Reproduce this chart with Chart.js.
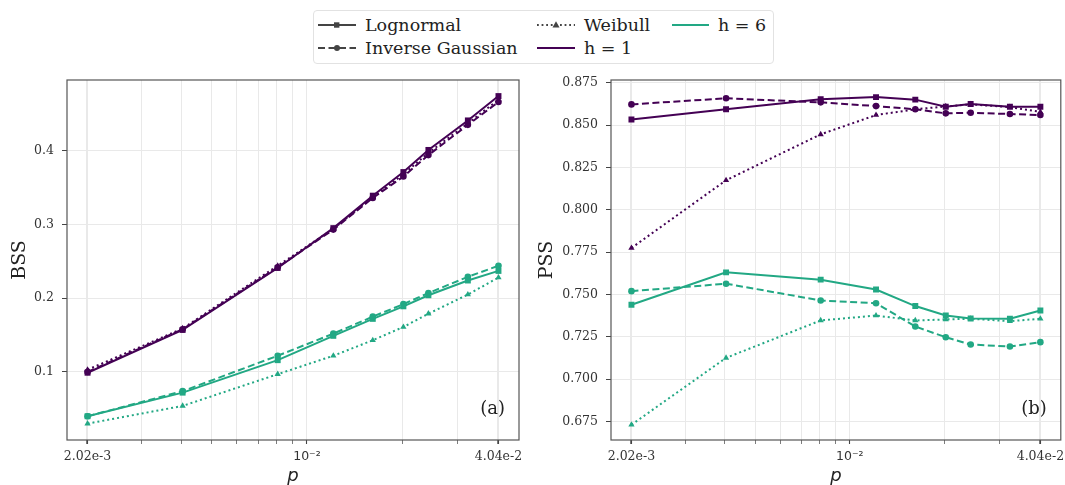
<!DOCTYPE html>
<html>
<head>
<meta charset="utf-8">
<script src="https://cdn.jsdelivr.net/npm/chart.js@4.4.1/dist/chart.umd.min.js"></script>
<style>
  body { margin: 0; background: #fff; }
  #wrap { position: relative; width: 1065px; height: 485px; overflow: hidden; }
  canvas { position: absolute; top: 0; }
  #chart1 { left: 0; }
  #chart2 { left: 530px; }
  #legend {
    position: absolute; left: 313px; top: 10px; width: 459px; height: 52px;
    border: 1px solid #e2e2e2; border-radius: 4px; background: #fff;
    font-family: "DejaVu Serif", serif; font-size: 17.5px; color: #222;
  }
  .item { position: absolute; height: 20px; line-height: 20px; white-space: nowrap; }
  .item svg { position: absolute; left: 0; top: 4px; }
  .item span { position: absolute; top: 0; }
</style>
</head>
<body>
<div id="wrap">
  <canvas id="chart1" width="530" height="485"></canvas>
  <canvas id="chart2" width="535" height="485"></canvas>
  <div id="legend">
    <div class="item" style="left:4px; top:4px;">
      <svg width="40" height="12"><line x1="0" y1="6" x2="38" y2="6" stroke="#444" stroke-width="1.8"/><rect x="16" y="3.3" width="5.4" height="5.4" fill="#444"/></svg>
      <span style="left:47px;">Lognormal</span>
    </div>
    <div class="item" style="left:4px; top:27px;">
      <svg width="40" height="12"><line x1="0" y1="6" x2="38" y2="6" stroke="#444" stroke-width="1.8" stroke-dasharray="7,3.5"/><circle cx="19" cy="6" r="3" fill="#444"/></svg>
      <span style="left:47px;">Inverse Gaussian</span>
    </div>
    <div class="item" style="left:223px; top:4px;">
      <svg width="40" height="12"><line x1="0" y1="6" x2="38" y2="6" stroke="#444" stroke-width="1.8" stroke-dasharray="1.8,2.8"/><polygon points="19,2.3 22.5,8.4 15.5,8.4" fill="#444"/></svg>
      <span style="left:47px;">Weibull</span>
    </div>
    <div class="item" style="left:223px; top:27px;">
      <svg width="40" height="12"><line x1="0" y1="6" x2="38" y2="6" stroke="#440154" stroke-width="2"/></svg>
      <span style="left:47px;">h = 1</span>
    </div>
    <div class="item" style="left:358px; top:4px;">
      <svg width="40" height="12"><line x1="0" y1="6" x2="37" y2="6" stroke="#22a884" stroke-width="2"/></svg>
      <span style="left:46px;">h = 6</span>
    </div>
  </div>
</div>
<script>
// p values (2.02e-3 times 1, 2, 4, 6, 8, 10, 12, 16, 20)
const pValues = [0.00202, 0.00404, 0.00808, 0.01212, 0.01616, 0.0202, 0.02424, 0.03232, 0.0404];

// BSS, panel (a)
const bssLogH1 = [0.099, 0.157, 0.241, 0.295, 0.339, 0.371, 0.401, 0.441, 0.474];
const bssInvH1 = [0.100, 0.158, 0.242, 0.293, 0.336, 0.365, 0.394, 0.435, 0.466];
const bssWeiH1 = [0.103, 0.159, 0.244, 0.294, 0.337, 0.368, 0.397, 0.437, 0.469];
const bssLogH6 = [0.040, 0.072, 0.116, 0.149, 0.172, 0.189, 0.204, 0.224, 0.237];
const bssInvH6 = [0.040, 0.074, 0.122, 0.152, 0.175, 0.192, 0.207, 0.229, 0.244];
const bssWeiH6 = [0.030, 0.054, 0.097, 0.122, 0.143, 0.161, 0.179, 0.205, 0.228];

// PSS, panel (b)
const pssLogH1 = [0.8533, 0.8593, 0.8652, 0.8665, 0.8650, 0.8608, 0.8624, 0.8608, 0.8608];
const pssInvH1 = [0.8622, 0.8658, 0.8634, 0.8612, 0.8593, 0.8569, 0.8573, 0.8565, 0.8559];
const pssWeiH1 = [0.7774, 0.8174, 0.8445, 0.8559, 0.8593, 0.8610, 0.8622, 0.8606, 0.8578];
const pssLogH6 = [0.7439, 0.7630, 0.7587, 0.7529, 0.7431, 0.7375, 0.7358, 0.7356, 0.7405];
const pssInvH6 = [0.7519, 0.7563, 0.7464, 0.7448, 0.7310, 0.7247, 0.7204, 0.7192, 0.7218];
const pssWeiH6 = [0.6730, 0.7125, 0.7346, 0.7375, 0.7346, 0.7352, 0.7356, 0.7342, 0.7356];

// axis ticks
const xGridTicks = [0.002, 0.00202, 0.003, 0.004, 0.005, 0.006, 0.007, 0.008, 0.009, 0.01, 0.02, 0.03, 0.04, 0.0404];
const xLabelTicks = [0.00202, 0.01, 0.0404];
const xLabels = ['2.02e-3', '10\u207B\u00B2', '4.04e-2'];
const bssTicks = [0.1, 0.2, 0.3, 0.4];
const pssTicks = [0.675, 0.700, 0.725, 0.750, 0.775, 0.800, 0.825, 0.850, 0.875];

const purple = '#440154';
const green = '#22a884';

function makeSet(label, values, color, kind) {
    let set = {
        label: label,
        data: pValues.map((p, i) => ({x: p, y: values[i]})),
        borderColor: color,
        backgroundColor: color,
        borderWidth: 2,
        fill: false,
        tension: 0,
        pointBorderWidth: 0,
    };
    if (kind == 'log') {
        set.pointStyle = 'rect';
        set.pointRadius = 4.2;
    } else if (kind == 'inv') {
        set.pointStyle = 'circle';
        set.pointRadius = 3.3;
        set.borderDash = [7, 3.5];
    } else {
        set.pointStyle = 'triangle';
        set.pointRadius = 3.6;
        set.borderDash = [2, 3];
    }
    return set;
}

// box around the plot area and the (a)/(b) tag
const framePlugin = {
    id: 'frame',
    afterDraw(chart, args, opts) {
        const a = chart.chartArea;
        const c = chart.ctx;
        c.save();
        c.strokeStyle = '#555';
        c.lineWidth = 1.2;
        c.strokeRect(a.left, a.top, a.right - a.left, a.bottom - a.top);
        c.font = '18px "DejaVu Serif"';
        c.fillStyle = '#222';
        c.textAlign = 'right';
        c.textBaseline = 'alphabetic';
        c.fillText(opts.tag, a.right - 14, a.bottom - 26);
        c.restore();
    }
};

function makeOptions(yTicks, yMin, yMax, yTitle, yWidth, decimals, tag, padRight) {
    return {
        responsive: false,
        animation: false,
        layout: { padding: { top: 80, right: padRight, left: 0, bottom: 0 } },
        plugins: {
            legend: { display: false },
            tooltip: { enabled: false },
            frame: { tag: tag }
        },
        scales: {
            x: {
                type: 'logarithmic',
                min: 0.001739,
                max: 0.04692,
                border: { display: false },
                afterBuildTicks: (axis) => {
                    axis.ticks = xGridTicks.map(v => ({ value: v, major: xLabelTicks.includes(v) }));
                },
                afterFit: (s) => { s.height = 45; s.paddingLeft = 0; s.paddingRight = 0; },
                ticks: {
                    autoSkip: false,
                    maxRotation: 0,
                    padding: 5,
                    color: '#333',
                    font: (c) => (c.tick && c.tick.value == 0.01)
                        ? { family: 'DejaVu Sans', size: 12.5 }
                        : { family: 'DejaVu Serif', size: 12.5 },
                    callback: (v) => {
                        let i = xLabelTicks.indexOf(v);
                        return i >= 0 ? xLabels[i] : '';
                    }
                },
                grid: {
                    color: '#e9e9e9',
                    lineWidth: 1,
                    tickColor: '#444',
                    tickLength: 4,
                    tickWidth: (c) => (c.tick && xLabelTicks.includes(c.tick.value)) ? 1.1 : 0.7
                },
                title: {
                    display: true,
                    text: 'p',
                    color: '#222',
                    font: { family: 'DejaVu Sans', style: 'italic', size: 18, lineHeight: 1 },
                    padding: { top: 0, bottom: 0 }
                }
            },
            y: {
                min: yMin,
                max: yMax,
                border: { display: false },
                afterBuildTicks: (axis) => {
                    axis.ticks = yTicks.map(v => ({ value: v }));
                },
                afterFit: (s) => { s.width = yWidth; s.paddingTop = 0; s.paddingBottom = 0; },
                ticks: {
                    padding: 8,
                    color: '#333',
                    font: { family: 'DejaVu Serif', size: 12.5 },
                    callback: (v) => Number(v).toFixed(decimals)
                },
                grid: {
                    color: '#e9e9e9',
                    lineWidth: 1,
                    tickColor: '#444',
                    tickLength: 5
                },
                title: {
                    display: true,
                    text: yTitle,
                    color: '#222',
                    font: { family: 'DejaVu Serif', size: 19, lineHeight: 1.2 },
                    padding: { top: yWidth == 67 ? 9 : 6, bottom: 0 }
                }
            }
        }
    };
}

let ctx1 = document.getElementById('chart1').getContext('2d');
let chart1 = new Chart(ctx1, {
    type: 'line',
    data: {
        datasets: [
            makeSet('Lognormal h=1', bssLogH1, purple, 'log'),
            makeSet('Inverse Gaussian h=1', bssInvH1, purple, 'inv'),
            makeSet('Weibull h=1', bssWeiH1, purple, 'wei'),
            makeSet('Lognormal h=6', bssLogH6, green, 'log'),
            makeSet('Inverse Gaussian h=6', bssInvH6, green, 'inv'),
            makeSet('Weibull h=6', bssWeiH6, green, 'wei')
        ]
    },
    options: makeOptions(bssTicks, 0.0078, 0.4958, 'BSS', 67, 1, '(a)', 11),
    plugins: [framePlugin]
});

let ctx2 = document.getElementById('chart2').getContext('2d');
let chart2 = new Chart(ctx2, {
    type: 'line',
    data: {
        datasets: [
            makeSet('Lognormal h=1', pssLogH1, purple, 'log'),
            makeSet('Inverse Gaussian h=1', pssInvH1, purple, 'inv'),
            makeSet('Weibull h=1', pssWeiH1, purple, 'wei'),
            makeSet('Lognormal h=6', pssLogH6, green, 'log'),
            makeSet('Inverse Gaussian h=6', pssInvH6, green, 'inv'),
            makeSet('Weibull h=6', pssWeiH6, green, 'wei')
        ]
    },
    options: makeOptions(pssTicks, 0.6640, 0.8766, 'PSS', 81, 3, '(b)', 1),
    plugins: [framePlugin]
});
</script>
</body>
</html>
